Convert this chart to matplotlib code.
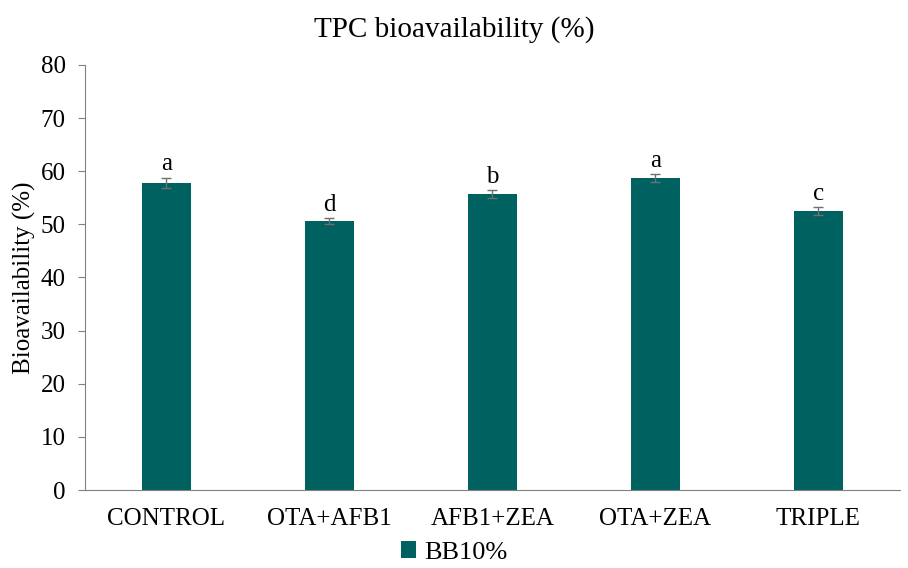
import numpy as np
import matplotlib.pyplot as plt

# =============================================================================
# Data
# =============================================================================
categories = ["CONTROL", "OTA+AFB1", "AFB1+ZEA", "OTA+ZEA", "TRIPLE"]
values     = [57.8, 50.6, 55.7, 58.7, 52.5]
errors     = [1.0, 0.6, 0.7, 0.7, 0.8]
letters    = ["a", "d", "b", "a", "c"]
series     = "BB10%"

plt.rcParams['font.family'] = ['Liberation Serif', 'DejaVu Serif']

# =============================================================================
# Plot
# =============================================================================
fig = plt.figure(figsize=(9.08, 5.68), dpi=100)
ax = fig.add_axes([0.0936, 0.1373, 0.8974, 0.7483])

x = np.arange(len(categories))
bars = ax.bar(x, values, width=0.3, color='#006260', label=series, zorder=2)
ax.errorbar(x, values, yerr=errors, fmt='none', ecolor='#707070',
            elinewidth=1, capsize=3.5, capthick=1, zorder=3)

for xi, v, e, s in zip(x, values, errors, letters):
    ax.text(xi, v + e + 0.4, s, ha='center', va='bottom', fontsize=18)

ax.set_xlim(-0.5, len(categories) - 0.5)
ax.set_ylim(0, 80)
ax.set_yticks(range(0, 81, 10))
ax.set_xticks(x)
ax.set_xticklabels(categories, fontsize=18)
ax.tick_params(axis='y', labelsize=18, length=5, color='#808080', pad=9)
ax.tick_params(axis='x', length=0, pad=13)
ax.set_ylabel("Bioavailability (%)", fontsize=18, labelpad=3)

for side in ('top', 'right'):
    ax.spines[side].set_visible(False)
for side in ('left', 'bottom'):
    ax.spines[side].set_color('#808080')

fig.suptitle("TPC bioavailability (%)", fontsize=21, y=0.972)

fig.legend(handles=[bars], labels=[series], loc='lower center',
           bbox_to_anchor=(0.5, -0.035), frameon=False, fontsize=19,
           handlelength=0.6, handleheight=0.6, handletextpad=0.3)

plt.savefig("out.png", dpi=100)
